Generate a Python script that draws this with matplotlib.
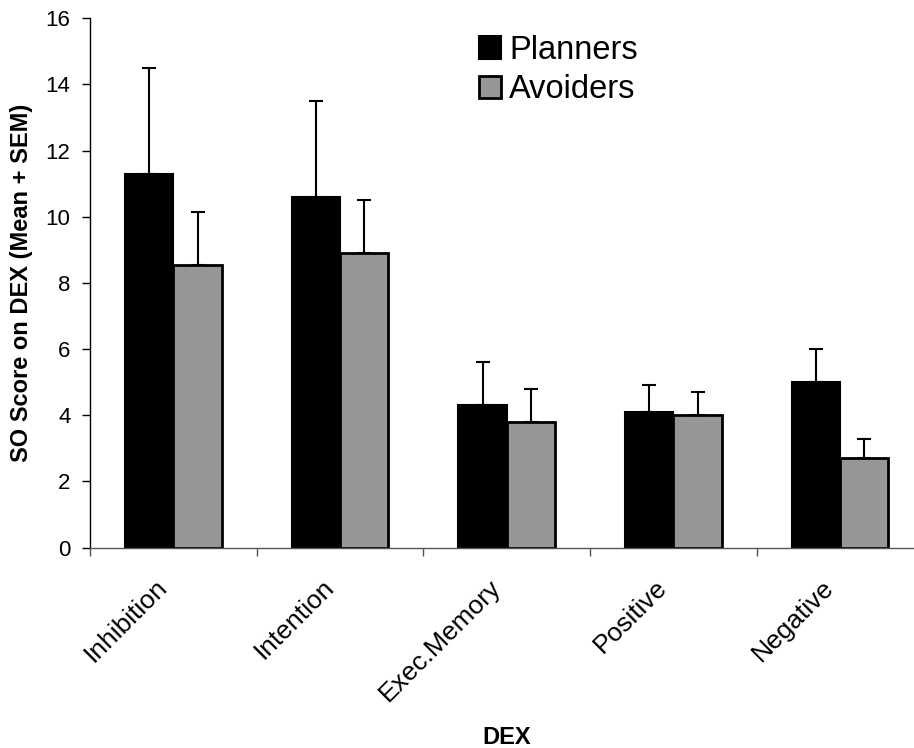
import numpy as np
import matplotlib.pyplot as plt

plt.rcParams['font.family'] = ['Liberation Sans', 'DejaVu Sans']

categories = ['Inhibition', 'Intention', 'Exec.Memory', 'Positive', 'Negative']
planners = [11.3, 10.6, 4.3, 4.1, 5.0]
planners_sem = [3.2, 2.9, 1.3, 0.8, 1.0]
avoiders = [8.55, 8.9, 3.8, 4.0, 2.72]
avoiders_sem = [1.6, 1.6, 1.0, 0.7, 0.55]

fig = plt.figure(figsize=(9.14, 7.48), dpi=100)
ax = fig.add_axes([90 / 914, 200.5 / 748, 833.5 / 914, 529.2 / 748])

x = np.arange(len(categories))
w = 0.29
err_kw = dict(ecolor='black', elinewidth=1.5, capsize=5, capthick=1.5)

ax.bar(x - w / 2, planners, w, color='black', edgecolor='black', linewidth=1.5,
       yerr=[np.zeros(len(x)), planners_sem], error_kw=err_kw, label='Planners', zorder=2)
ax.bar(x + w / 2, avoiders, w, color='#969696', edgecolor='black', linewidth=2,
       yerr=[np.zeros(len(x)), avoiders_sem], error_kw=err_kw, label='Avoiders', zorder=2)

ax.set_xlim(-0.5, len(categories) - 0.5)
ax.set_ylim(0, 16)
ax.set_yticks(np.arange(0, 17, 2))
ax.tick_params(axis='y', direction='out', length=6, width=1, labelsize=16, pad=8)

# tick marks between categories, labels near the centres
ax.set_xticks(np.arange(len(categories) + 1) - 0.5)
ax.set_xticklabels([])
ax.tick_params(axis='x', which='major', direction='out', length=6, width=1, color='#555555')
ax.set_xticks(x - 0.11, minor=True)
ax.set_xticklabels(categories, minor=True, rotation=45, ha='right', va='top',
                   rotation_mode='anchor', fontsize=19)
ax.tick_params(axis='x', which='minor', length=0, pad=20)

for s in ['top', 'right']:
    ax.spines[s].set_visible(False)
ax.spines['left'].set_linewidth(1)
ax.spines['bottom'].set_linewidth(1)
ax.spines['bottom'].set_color('#555555')

ax.set_ylabel('SO Score on DEX (Mean + SEM)', fontsize=17, fontweight='bold', labelpad=9)
ax.set_xlabel('DEX', fontsize=17, fontweight='bold', labelpad=14)

ax.legend(loc='upper left', bbox_to_anchor=(479 / 914, 1 - 35 / 748),
          bbox_transform=fig.transFigure, frameon=False, fontsize=23.5,
          handlelength=0.68, handleheight=0.68, handletextpad=0.25, labelspacing=0.25,
          borderpad=0, borderaxespad=0)

fig.savefig('out.png', dpi=100)
